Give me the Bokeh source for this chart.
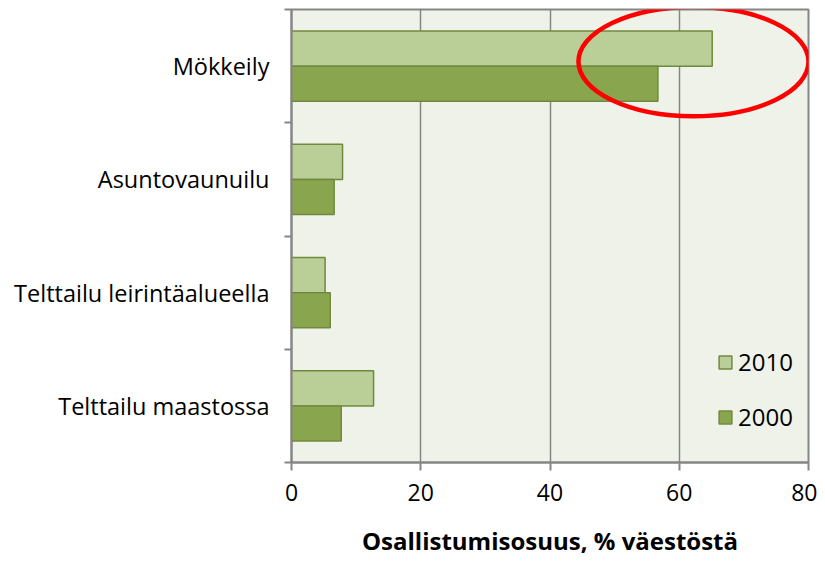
from bokeh.plotting import figure
from bokeh.models import (Range1d, LinearAxis, FixedTicker, Legend, LegendItem, ColumnDataSource)
from bokeh.embed import file_html
from bokeh.resources import INLINE

categories = ["Mökkeily", "Asuntovaunuilu", "Telttailu leirintäalueella", "Telttailu maastossa"]
values_2010 = [65.1, 7.9, 5.2, 12.7]
values_2000 = [56.7, 6.6, 6.0, 7.7]
x_ticks = [0, 20, 40, 60, 80]
series_labels = ["2010", "2000"]

# highlight ellipse annotation around the first category (data units)
hl_x = 62.2
hl_dy = 0.04
hl_w = 35.6
hl_h = 0.965

FONT = "Open Sans"
GRAY = "#868686"
LIGHT = "#B9CF97"
DARK = "#89A54E"
EDGE = "#71893F"

n = len(categories)
centers = [n - 1 - i + 0.5 for i in range(n)]   # first category on top
bar_h = 0.31

src = ColumnDataSource(dict(
    cat=categories,
    y2010=[c + bar_h / 2 for c in centers],
    y2000=[c - bar_h / 2 for c in centers],
    v2010=values_2010, v2000=values_2000))

p = figure(width=817, height=561, y_range=Range1d(0, n), x_range=Range1d(0, 80),
           output_backend="svg", toolbar_location=None,
           min_border_left=291, min_border_right=9, min_border_top=9, min_border_bottom=99)
p.background_fill_color = "#EFF2E9"
p.border_fill_color = "white"
p.outline_line_color = GRAY
p.outline_line_width = 2

r1 = p.hbar(y="y2010", right="v2010", left=0, height=bar_h, source=src,
            fill_color=LIGHT, line_color=EDGE, line_width=1.5)
r2 = p.hbar(y="y2000", right="v2000", left=0, height=bar_h, source=src,
            fill_color=DARK, line_color=EDGE, line_width=1.5)

p.ellipse(x=[hl_x], y=[centers[0] + hl_dy], width=hl_w, height=hl_h,
          fill_color=None, line_color="red", line_width=4.5)

# x axis
xa = p.xaxis[0]
xa.ticker = FixedTicker(ticks=x_ticks)
xa.axis_line_color = GRAY
xa.axis_line_width = 2
xa.major_tick_line_color = GRAY
xa.major_tick_line_width = 2
xa.major_tick_in = 0
xa.major_tick_out = 8
xa.minor_tick_line_color = None
xa.major_label_standoff = 13
xa.major_label_text_font = FONT
xa.major_label_text_font_size = "23px"
xa.major_label_text_color = "black"
xa.axis_label = "Osallistumisosuus, % väestöstä"
xa.axis_label_text_font = FONT
xa.axis_label_text_font_size = "24px"
xa.axis_label_text_font_style = "bold"
xa.axis_label_text_color = "black"
xa.axis_label_standoff = 20

p.xgrid.grid_line_color = GRAY
p.xgrid.grid_line_width = 1.5
p.ygrid.visible = False

# y axis: boundary ticks (inner), no labels
ba = p.yaxis[0]
ba.ticker = FixedTicker(ticks=list(range(n + 1)))
ba.major_label_overrides = {i: "" for i in range(n + 1)}
ba.major_label_standoff = 0
ba.major_tick_in = 0
ba.major_tick_out = 7
ba.major_tick_line_color = GRAY
ba.major_tick_line_width = 2
ba.minor_tick_line_color = None
ba.axis_line_color = GRAY
ba.axis_line_width = 2

# category labels (outer)
ca = LinearAxis(ticker=FixedTicker(ticks=centers),
                major_label_overrides={c: name for c, name in zip(centers, categories)})
ca.axis_line_color = None
ca.major_tick_line_color = None
ca.minor_tick_line_color = None
ca.major_tick_out = 0
ca.major_tick_in = 0
ca.major_label_standoff = 15
ca.major_label_text_font = FONT
ca.major_label_text_font_size = "23.5px"
ca.major_label_text_color = "black"
p.add_layout(ca, "left")

legend = Legend(items=[LegendItem(label=series_labels[0], renderers=[r1]),
                       LegendItem(label=series_labels[1], renderers=[r2])],
                location=(426, 29), orientation="vertical")
legend.background_fill_alpha = 0
legend.border_line_color = None
legend.padding = 0
legend.margin = 0
legend.spacing = 22
legend.glyph_width = 16
legend.glyph_height = 16
legend.label_standoff = 5
legend.label_text_font = FONT
legend.label_text_font_size = "24px"
legend.label_text_color = "black"
p.add_layout(legend, "center")

open("out.html", "w").write(file_html(p, INLINE))
